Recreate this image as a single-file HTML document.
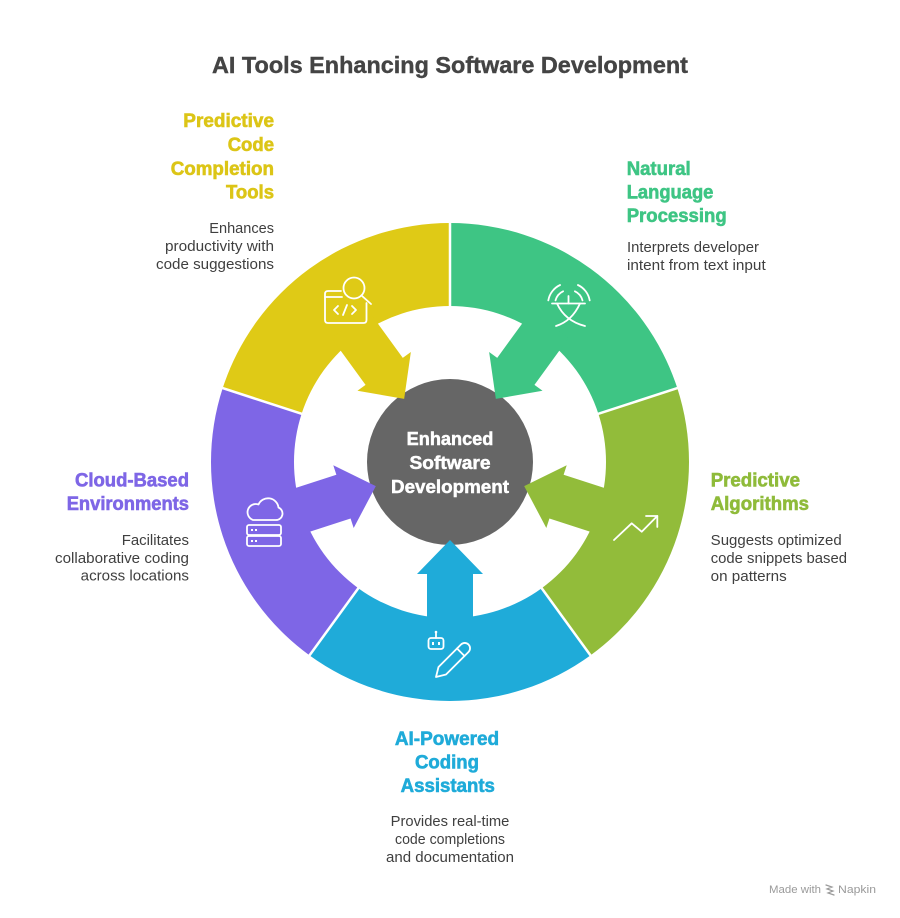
<!DOCTYPE html>
<html>
<head>
<meta charset="utf-8">
<style>
  html,body{margin:0;padding:0;background:#fff;}
  svg{display:block;}
  text{font-family:"Liberation Sans",Arial,sans-serif;}
  .h{font-weight:700;font-size:19px;stroke-width:0.6;}
  .d{font-size:15px;fill:#3f3f3f;}
  .ic{fill:none;stroke:#fff;stroke-width:1.8;stroke-linecap:round;stroke-linejoin:round;}
</style>
</head>
<body>
<svg width="900" height="918" viewBox="0 0 900 918" xmlns="http://www.w3.org/2000/svg">
  <rect width="900" height="918" fill="#fff"/>

  <!-- Title -->
  <text x="450" y="73" text-anchor="middle" font-size="23" font-weight="700" fill="#444" stroke="#444" stroke-width="0.4" textLength="476" lengthAdjust="spacingAndGlyphs">AI Tools Enhancing Software Development</text>

  <!-- Ring segments -->
  <path d="M 222.70 388.14 A 239 239 0 0 1 450 223 L 450 306 A 156 156 0 0 0 301.63 413.79 Z" fill="#DFCA16"/>
  <path d="M 450 223 A 239 239 0 0 1 677.30 388.14 L 598.37 413.79 A 156 156 0 0 0 450 306 Z" fill="#3EC584"/>
  <path d="M 677.30 388.14 A 239 239 0 0 1 590.48 655.36 L 541.70 588.21 A 156 156 0 0 0 598.37 413.79 Z" fill="#92BC3A"/>
  <path d="M 590.48 655.36 A 239 239 0 0 1 309.52 655.36 L 358.30 588.21 A 156 156 0 0 0 541.70 588.21 Z" fill="#1FABD9"/>
  <path d="M 309.52 655.36 A 239 239 0 0 1 222.70 388.14 L 301.63 413.79 A 156 156 0 0 0 358.30 588.21 Z" fill="#7E66E6"/>

  <!-- boundary gaps -->
  <g stroke="#fff" stroke-width="2.5">
    <line x1="450" y1="218" x2="450" y2="310"/>
    <line x1="682" y1="386.6" x2="594" y2="415.2"/>
    <line x1="593.4" y1="659.4" x2="539" y2="584.5"/>
    <line x1="306.6" y1="659.4" x2="361" y2="584.5"/>
    <line x1="218" y1="386.6" x2="306" y2="415.2"/>
  </g>

  <!-- Center circle -->
  <circle cx="450" cy="462" r="83" fill="#666666"/>

  <!-- Arrows -->
  <g transform="translate(450,462)">
    <polygon transform="rotate(-126)" points="170,-23 112,-23 112,-33 78,0 112,33 112,23 170,23" fill="#DFCA16"/>
    <polygon transform="rotate(-54)" points="170,-23 112,-23 112,-33 78,0 112,33 112,23 170,23" fill="#3EC584"/>
    <polygon transform="rotate(18)" points="170,-23 112,-23 112,-33 78,0 112,33 112,23 170,23" fill="#92BC3A"/>
    <polygon transform="rotate(90)" points="170,-23 112,-23 112,-33 78,0 112,33 112,23 170,23" fill="#1FABD9"/>
    <polygon transform="rotate(162)" points="170,-23 112,-23 112,-33 78,0 112,33 112,23 170,23" fill="#7E66E6"/>
  </g>

  <!-- Center text -->
  <g fill="#fff" stroke="#fff" stroke-width="0.5" font-weight="700" font-size="18.5" text-anchor="middle">
    <text x="450" y="445" textLength="86.7" lengthAdjust="spacingAndGlyphs">Enhanced</text>
    <text x="450" y="469" textLength="81" lengthAdjust="spacingAndGlyphs">Software</text>
    <text x="450" y="493" textLength="118" lengthAdjust="spacingAndGlyphs">Development</text>
  </g>

  <!-- Icons -->
  <g class="ic">
    <path d="M 341 291 H 328 Q 325 291 325 294 V 320 Q 325 323 328 323 H 363.5 Q 366.5 323 366.5 320 V 303"/>
    <line x1="325" y1="297" x2="342" y2="297"/>
    <circle cx="354" cy="288" r="10.5"/>
    <line x1="361.5" y1="295.5" x2="371" y2="304"/>
    <path d="M 338 306 L 334 310 L 338 314"/>
    <path d="M 352 306 L 356 310 L 352 314"/>
    <line x1="347" y1="305" x2="343" y2="315"/>
  </g>
  <g class="ic">
    <path d="M 548.3 300.4 A 21 21 0 0 1 560.1 285"/>
    <path d="M 577.9 285 A 21 21 0 0 1 589.7 300.4"/>
    <path d="M 555.5 300.4 A 14 14 0 0 1 563.1 291.3"/>
    <path d="M 574.9 291.3 A 14 14 0 0 1 582.5 300.4"/>
    <line x1="552" y1="303.5" x2="585" y2="303.5"/>
    <line x1="568.5" y1="296" x2="568.5" y2="303.5"/>
    <path d="M 557 303.5 Q 565 321 585 326"/>
    <path d="M 580 303.5 Q 572 321 556 326"/>
  </g>
  <g class="ic">
    <polyline points="614,540 631.7,523.3 641.7,531.7 657.3,516"/>
    <path d="M 646 516 H 657.3 V 527"/>
  </g>
  <g class="ic">
    <path d="M 253 520 H 276 A 6.5 6.5 0 0 0 278.5 507.5 A 10.5 10.5 0 0 0 258.5 504.5 A 7.8 7.8 0 0 0 253 520 Z"/>
    <rect x="247" y="525" width="34" height="10" rx="2"/>
    <rect x="247" y="536" width="34" height="10" rx="2"/>
  </g>
  <g fill="#fff">
    <rect x="251" y="529" width="2" height="2"/>
    <rect x="255" y="529" width="2" height="2"/>
    <rect x="251" y="540" width="2" height="2"/>
    <rect x="255" y="540" width="2" height="2"/>
  </g>
  <g class="ic">
    <rect x="428.5" y="638" width="15" height="11" rx="2.5"/>
    <line x1="436" y1="633" x2="436" y2="638"/>
    <path d="M 436 677 L 438.5 667 L 461 644.5 A 5.3 5.3 0 0 1 468.5 652 L 446 674.5 Z"/>
    <line x1="457" y1="648.5" x2="464.5" y2="656"/>
  </g>
  <g fill="#fff">
    <circle cx="436" cy="632" r="1.3"/>
    <rect x="432" y="642" width="2" height="3"/>
    <rect x="438" y="642" width="2" height="3"/>
  </g>

  <!-- Yellow labels -->
  <g fill="#DCC516" stroke="#DCC516" text-anchor="end">
    <text class="h" x="274" y="127" textLength="90.7" lengthAdjust="spacingAndGlyphs">Predictive</text>
    <text class="h" x="274" y="151" textLength="46.3" lengthAdjust="spacingAndGlyphs">Code</text>
    <text class="h" x="274" y="175" textLength="103.3" lengthAdjust="spacingAndGlyphs">Completion</text>
    <text class="h" x="274" y="198.5" textLength="48" lengthAdjust="spacingAndGlyphs">Tools</text>
  </g>
  <g text-anchor="end">
    <text class="d" x="274" y="233" textLength="64.7" lengthAdjust="spacingAndGlyphs">Enhances</text>
    <text class="d" x="274" y="251" textLength="109" lengthAdjust="spacingAndGlyphs">productivity with</text>
    <text class="d" x="274" y="269" textLength="118" lengthAdjust="spacingAndGlyphs">code suggestions</text>
  </g>

  <!-- Green labels -->
  <g fill="#3EC584" stroke="#3EC584">
    <text class="h" x="626.7" y="175" textLength="64" lengthAdjust="spacingAndGlyphs">Natural</text>
    <text class="h" x="626.7" y="198.5" textLength="86.7" lengthAdjust="spacingAndGlyphs">Language</text>
    <text class="h" x="626.7" y="222" textLength="100" lengthAdjust="spacingAndGlyphs">Processing</text>
  </g>
  <text class="d" x="627" y="252" textLength="132" lengthAdjust="spacingAndGlyphs">Interprets developer</text>
  <text class="d" x="627" y="270" textLength="138.7" lengthAdjust="spacingAndGlyphs">intent from text input</text>

  <!-- Olive labels -->
  <g fill="#8FBB3A" stroke="#8FBB3A">
    <text class="h" x="710.7" y="486.5" textLength="89.3" lengthAdjust="spacingAndGlyphs">Predictive</text>
    <text class="h" x="710.7" y="510" textLength="98.3" lengthAdjust="spacingAndGlyphs">Algorithms</text>
  </g>
  <text class="d" x="710.7" y="545" textLength="131" lengthAdjust="spacingAndGlyphs">Suggests optimized</text>
  <text class="d" x="710.7" y="563" textLength="136.3" lengthAdjust="spacingAndGlyphs">code snippets based</text>
  <text class="d" x="710.7" y="581" textLength="76" lengthAdjust="spacingAndGlyphs">on patterns</text>

  <!-- Purple labels -->
  <g fill="#7E66E6" stroke="#7E66E6" text-anchor="end">
    <text class="h" x="189" y="486.5" textLength="114" lengthAdjust="spacingAndGlyphs">Cloud-Based</text>
    <text class="h" x="189" y="510" textLength="122.3" lengthAdjust="spacingAndGlyphs">Environments</text>
  </g>
  <g text-anchor="end">
    <text class="d" x="189" y="545" textLength="67.3" lengthAdjust="spacingAndGlyphs">Facilitates</text>
    <text class="d" x="189" y="563" textLength="134" lengthAdjust="spacingAndGlyphs">collaborative coding</text>
    <text class="d" x="189" y="580.5" textLength="108.3" lengthAdjust="spacingAndGlyphs">across locations</text>
  </g>

  <!-- Blue labels -->
  <g fill="#1FABD9" stroke="#1FABD9" text-anchor="middle">
    <text class="h" x="447" y="745" textLength="104.3" lengthAdjust="spacingAndGlyphs">AI-Powered</text>
    <text class="h" x="447" y="768.5" textLength="64" lengthAdjust="spacingAndGlyphs">Coding</text>
    <text class="h" x="447.8" y="792" textLength="94.3" lengthAdjust="spacingAndGlyphs">Assistants</text>
  </g>
  <g text-anchor="middle">
    <text class="d" x="450" y="826" textLength="118.7" lengthAdjust="spacingAndGlyphs">Provides real-time</text>
    <text class="d" x="450" y="844" textLength="110" lengthAdjust="spacingAndGlyphs">code completions</text>
    <text class="d" x="450" y="862" textLength="128" lengthAdjust="spacingAndGlyphs">and documentation</text>
  </g>

  <!-- Footer -->
  <text x="769" y="893" font-size="11" fill="#9a9a9a" textLength="52" lengthAdjust="spacingAndGlyphs">Made with</text>
  <g stroke="#9a9a9a" stroke-width="1.2" fill="none" stroke-linecap="round">
    <path d="M 826 885 L 832 887 L 827 889 L 833 891 L 828 893 L 834 895"/>
  </g>
  <text x="838" y="893" font-size="11" fill="#9a9a9a" textLength="38" lengthAdjust="spacingAndGlyphs">Napkin</text>
</svg>
</body>
</html>
